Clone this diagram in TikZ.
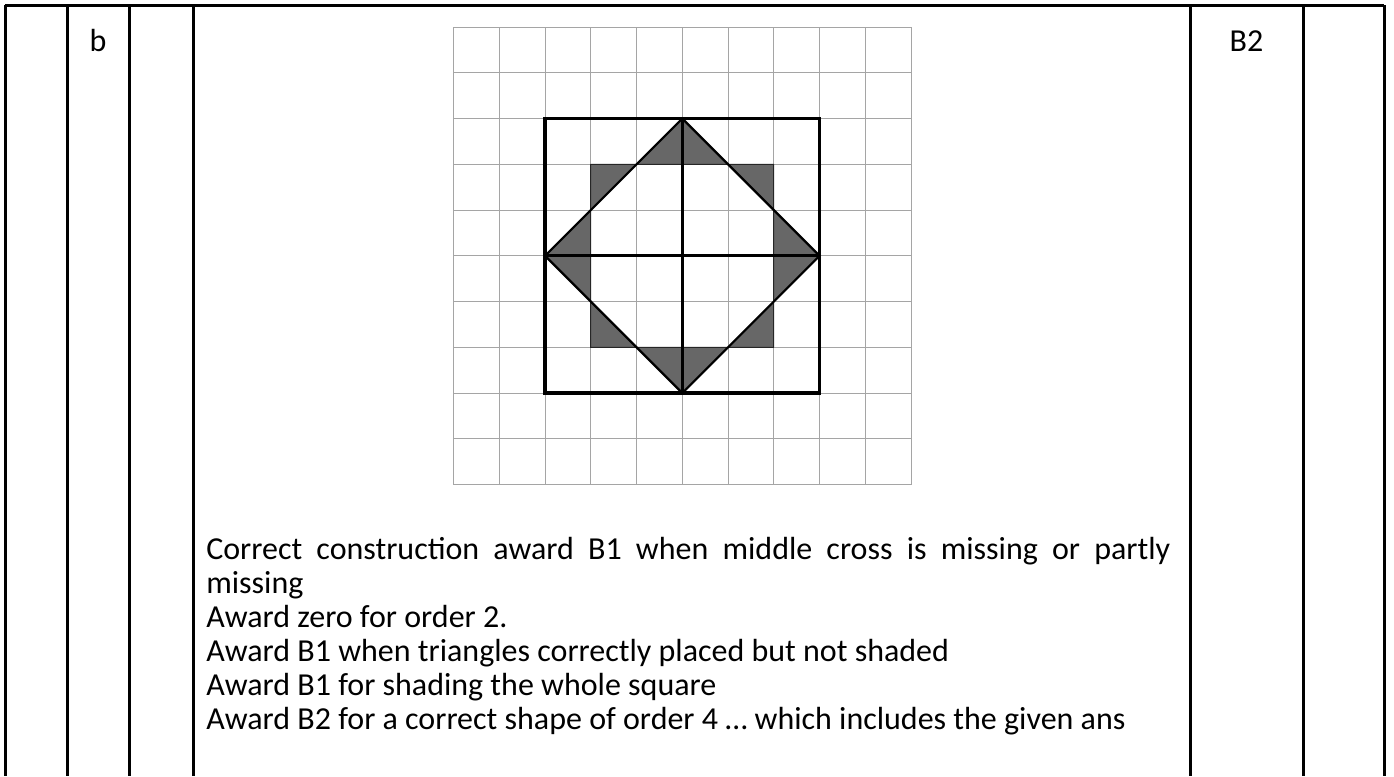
\documentclass[tikz,border=0pt]{standalone}
\usepackage{fontspec}
\setmainfont{Carlito}
\begin{document}
\begin{tikzpicture}[x=0.75pt,y=-0.75pt,
  tabline/.style={line width=2.25pt,black},
  gridline/.style={line width=0.75pt,color=gridgray},
  shade/.style={fill=shadegray,draw=black!85,line width=0.6pt,line join=round},
  txt/.style={anchor=base west,inner sep=0pt,font=\fontsize{24}{25.8}\selectfont},
  cell/.style={anchor=base,inner sep=0pt,font=\fontsize{24}{25.8}\selectfont}]
\definecolor{gridgray}{RGB}{165,165,165}
\definecolor{shadegray}{RGB}{103,103,103}
\useasboundingbox (0,0) rectangle (1394,776);
% table
\draw[tabline] (5,5) -- (1384,5);
\foreach \xx in {5,67,129,193,1190,1303,1384}{
  \draw[tabline] (\xx,5) -- (\xx,776);
}
\node[cell] (b) at (98,51) {b};
\node[cell] (b2) at (1246.5,51) {B2};
% grid figure
\begin{scope}[shift={(453.5,27)},x=34.3125pt,y=-34.3125pt]
  \foreach \i in {0,...,10}{
    \draw[gridline] (\i,0) -- (\i,10);
    \draw[gridline] (0,\i) -- (10,\i);
  }
  \foreach \p in {
    {(4,3)--(5,2)--(5,3)},
    {(5,2)--(6,3)--(5,3)},
    {(6,3)--(7,3)--(7,4)},
    {(7,4)--(8,5)--(7,5)},
    {(7,5)--(8,5)--(7,6)},
    {(7,6)--(7,7)--(6,7)},
    {(6,7)--(5,8)--(5,7)},
    {(5,7)--(5,8)--(4,7)},
    {(4,7)--(3,7)--(3,6)},
    {(3,6)--(2,5)--(3,5)},
    {(3,5)--(2,5)--(3,4)},
    {(3,4)--(3,3)--(4,3)}}{
    \expandafter\filldraw\expandafter[shade]\p--cycle;
  }
  \draw[line width=1.1pt,black!85] (3,3) rectangle (7,7);
  \draw[line width=1.6pt,line join=miter] (5,2) -- (8,5) -- (5,8) -- (2,5) -- cycle;
  \draw[line width=2.3pt] (2,2) rectangle (8,8);
  \draw[line width=2.6pt] (5,2) -- (5,8);
  \draw[line width=2.6pt] (2,5) -- (8,5);
\end{scope}
% text
\node[txt] (l1) at (206,559) {\makebox[723pt][s]{Correct construction award B1 when middle cross is missing or partly}};
\node[txt] (l2) at (206,593) {missing};
\node[txt] (l3) at (206,627) {Award zero for order 2.};
\node[txt] (l4) at (206,661) {Award B1 when triangles correctly placed but not shaded};
\node[txt] (l5) at (206,695) {Award B1 for shading the whole square};
\node[txt] (l6) at (206,729) {Award B2 for a correct shape of order 4 … which includes the given ans};
\end{tikzpicture}
\end{document}
